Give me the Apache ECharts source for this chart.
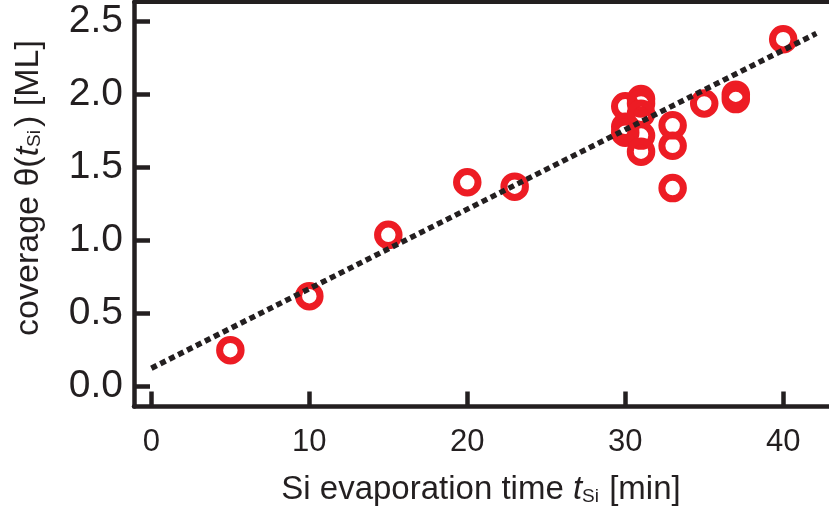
<!DOCTYPE html>
<html>
<head>
<meta charset="utf-8">
<script src="https://cdn.jsdelivr.net/npm/echarts@6/dist/echarts.min.js"></script>
<style>html,body{margin:0;padding:0;background:#fff}#c{width:829px;height:516px}</style>
</head>
<body>
<div id="c"></div>
<script>
// Data
var timeMin = [5, 10, 15, 20, 23, 30, 30, 30, 31, 31, 31, 31, 31, 33, 33, 33, 35, 37, 37, 40];
var coverageML = [0.25, 0.62, 1.04, 1.40, 1.37, 1.92, 1.78, 1.74, 1.97, 1.94, 1.87, 1.72, 1.61, 1.79, 1.65, 1.36, 1.94, 2.00, 1.97, 2.38];
var fitX = [0, 42.1];
var fitY = [0.126, 2.42];
var xTicks = [0, 10, 20, 30, 40];
var yTicks = [0, 0.5, 1.0, 1.5, 2.0, 2.5];

var INK = '#231f20';
var RED = '#ed1c24';
var SANS = 'Liberation Sans, Arial, sans-serif';
var chart = echarts.init(document.getElementById('c'), null, {renderer: 'canvas'});

var pts = timeMin.map(function (t, i) { return [t, coverageML[i]]; });
var fit = fitX.map(function (t, i) { return [t, fitY[i]]; });

chart.setOption({
  animation: false,
  backgroundColor: '#fff',
  grid: {left: 134, right: 0, top: 2, bottom: 109.5, containLabel: false},
  xAxis: [{
    type: 'value', min: -1.1, max: 42.9, position: 'bottom',
    splitLine: {show: false},
    axisLine: {show: true, onZero: false, lineStyle: {color: INK, width: 4.5}},
    axisTick: {show: true, inside: true, length: 15, lineStyle: {color: INK, width: 4.5}, customValues: xTicks},
    axisLabel: {show: true, margin: 20, color: INK, fontFamily: SANS, fontSize: 31, customValues: xTicks,
      formatter: function (v) { return String(v); }}
  }, {
    type: 'value', min: -1.1, max: 42.9, position: 'top',
    splitLine: {show: false},
    axisLine: {show: true, onZero: false, lineStyle: {color: INK, width: 4}},
    axisTick: {show: false}, axisLabel: {show: false}
  }],
  yAxis: {
    type: 'value', min: -0.136, max: 2.635,
    splitLine: {show: false},
    axisLine: {show: true, onZero: false, lineStyle: {color: INK, width: 4.5}},
    axisTick: {show: true, inside: true, length: 16, lineStyle: {color: INK, width: 4.5}, customValues: yTicks},
    axisLabel: {show: true, margin: 11, color: INK, fontFamily: SANS, fontSize: 39, customValues: yTicks,
      formatter: function (v) { return v.toFixed(1); }}
  },
  series: [{
    type: 'scatter', data: pts, symbol: 'circle', symbolSize: 21.5, z: 2,
    itemStyle: {color: 'rgba(0,0,0,0)', borderColor: RED, borderWidth: 7, opacity: 1},
    emphasis: {disabled: true}
  }, {
    type: 'line', data: fit, symbol: 'none', z: 3,
    lineStyle: {color: INK, width: 5.5, type: [6, 4], cap: 'butt', opacity: 1}
  }],
  graphic: [{
    type: 'text', x: 481, y: 490, z: 10,
    style: {
      text: 'Si evaporation time {it|t}{sub|Si} [min]',
      align: 'center', verticalAlign: 'middle',
      fontFamily: SANS, fontSize: 33, fill: INK,
      rich: {
        it: {fontFamily: SANS, fontStyle: 'italic', fontSize: 33, fill: INK},
        sub: {fontFamily: SANS, fontSize: 19, fill: INK, padding: [13, 1, 0, 0]}
      }
    }
  }, {
    type: 'text', x: 29, y: 188, rotation: Math.PI / 2, z: 10,
    style: {
      text: 'coverage θ({it|t}{sub|Si}) [ML]',
      align: 'center', verticalAlign: 'middle',
      fontFamily: SANS, fontSize: 34, fill: INK,
      rich: {
        it: {fontFamily: SANS, fontStyle: 'italic', fontSize: 34, fill: INK},
        sub: {fontFamily: SANS, fontSize: 19, fill: INK, padding: [12, 3, 0, 0]}
      }
    }
  }]
});
</script>
</body>
</html>
